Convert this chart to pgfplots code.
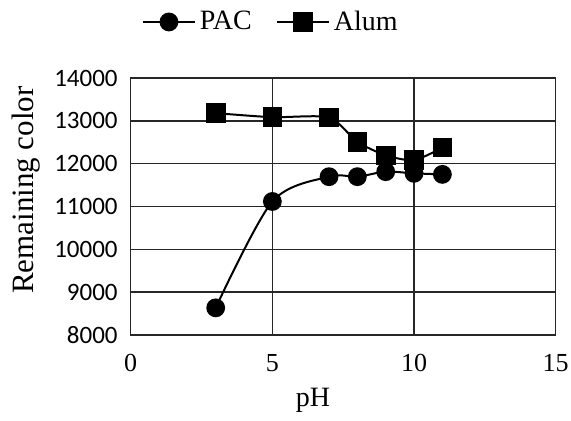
\documentclass[border=0pt]{standalone}
\usepackage{pgfplots}
\pgfplotsset{compat=1.18}
\usepackage{fontspec}
\setmainfont{Liberation Serif}
\newfontfamily\tickfont{Carlito}
\usetikzlibrary{calc}
\begin{document}
\begin{tikzpicture}
  \begin{axis}[
      name=ax,
      scale only axis,
      width=212.5pt,
      height=128.5pt,
      xmin=0, xmax=15,
      ymin=8000, ymax=14000,
      xtick={0,5,10,15},
      ytick={8000,9000,...,14000},
      scaled y ticks=false,
      /pgf/number format/assume math mode=true,
      yticklabel={\tickfont\pgfmathprintnumber[1000 sep={}]{\tick}},
      xticklabel style={font=\fontsize{13}{13}\selectfont, yshift=-6pt},
      yticklabel style={font=\fontsize{12.5}{12.5}\selectfont, xshift=-3pt},
      major tick length=0pt,
      grid=major,
      grid style={draw=black!85, line width=0.7pt},
      axis line style={draw=black!85, line width=0.7pt},
      xlabel={pH},
      xlabel style={font=\fontsize{14}{14}\selectfont, at={(rel axis cs:0.429,-0.255)}, anchor=center},
      ylabel={Remaining color},
      ylabel style={font=\fontsize{15.5}{15.5}\selectfont, at={(rel axis cs:-0.246,0.564)}, anchor=center, rotate=0},
      legend columns=2,
      legend style={draw=none, fill=none, at={(rel axis cs:0.332,1.218)}, anchor=center,
        font=\fontsize{14}{14}\selectfont, /tikz/every even column/.append style={column sep=10pt}},
      legend image code/.code={
        \draw[#1, mark repeat=2, mark phase=2] plot coordinates {(0pt,0pt) (13pt,0pt) (26pt,0pt)};
      },
      clip=false,
  ]
    \addplot[black, line width=1pt, smooth, tension=0.5, mark=*, mark size=4.2pt] coordinates {
      (3,8634) (5,11117) (7,11696) (8,11696) (9,11813) (10,11774) (11,11750)
    };
    \addlegendentry{PAC}
    \addplot[black, line width=1pt, smooth, tension=0.4, mark=square*, mark size=4.4pt] coordinates {
      (3,13180) (5,13085) (7,13080) (8,12507) (9,12195) (10,12080) (11,12375)
    };
    \addlegendentry{Alum}
  \end{axis}
  \pgfresetboundingbox
  \useasboundingbox ($(ax.south west)+(-65.35pt,-43pt)$) rectangle ($(ax.south west)+(220.15pt,167.5pt)$);
\end{tikzpicture}
\end{document}
